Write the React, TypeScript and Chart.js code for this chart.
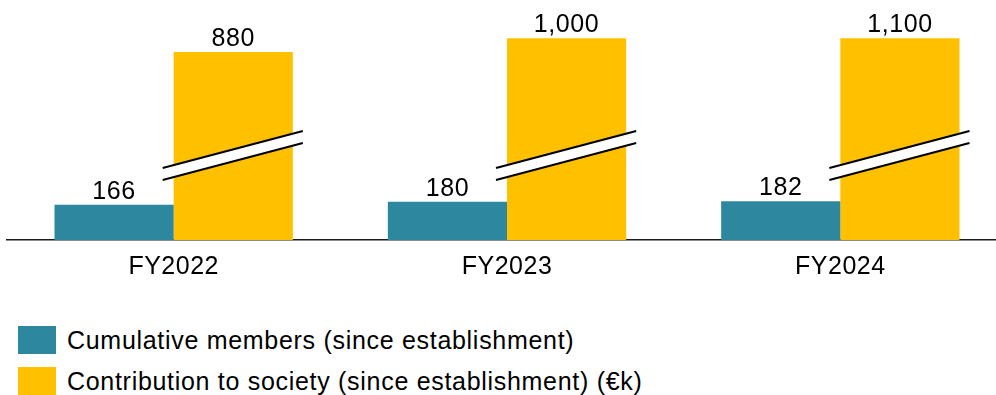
import React, { useEffect, useRef } from 'react';
import { Chart, registerables } from 'chart.js';

Chart.register(...registerables);

const categories = ['FY2022', 'FY2023', 'FY2024'];
const members = [166, 180, 182];
const contribution = [880, 1000, 1100];
// Heights at which the contribution bars are drawn (the axis is broken)
const contributionPlotted = [885, 950, 950];
const seriesNames = [
  'Cumulative members (since establishment)',
  'Contribution to society (since establishment) (€k)',
];
const yMax = 1130;
const breakValue = 398;

const TEAL = '#2D879E';
const YELLOW = '#FFC000';
const FONT = '"Liberation Sans", Arial, Helvetica, sans-serif';
const FONT_SIZE = 25;

const spacingPlugin = {
  id: 'spacing',
  beforeDraw(chart: any) {
    try {
      chart.ctx.letterSpacing = '0.5px';
    } catch (e) {}
  },
};

const overlayPlugin = {
  id: 'overlay',
  afterDatasetsDraw(chart: any) {
    const ctx = chart.ctx;
    const yScale = chart.scales.y;
    ctx.save();
    // axis break marks on the contribution bars
    const meta1 = chart.getDatasetMeta(1);
    meta1.data.forEach((bar: any) => {
      const x0 = bar.x - bar.width / 2 - 11;
      const x1 = bar.x + bar.width / 2 + 10;
      const yMid = yScale.getPixelForValue(breakValue);
      const rise = 18.5;
      const gap = 6;
      const yL = yMid + rise;
      const yR = yMid - rise;
      ctx.beginPath();
      ctx.moveTo(x0, yL - gap);
      ctx.lineTo(x1, yR - gap);
      ctx.lineTo(x1, yR + gap);
      ctx.lineTo(x0, yL + gap);
      ctx.closePath();
      ctx.fillStyle = '#ffffff';
      ctx.fill();
      ctx.strokeStyle = '#000000';
      ctx.lineWidth = 2;
      ctx.beginPath();
      ctx.moveTo(x0, yL - gap);
      ctx.lineTo(x1, yR - gap);
      ctx.stroke();
      ctx.beginPath();
      ctx.moveTo(x0, yL + gap);
      ctx.lineTo(x1, yR + gap);
      ctx.stroke();
    });
    // value labels
    try {
      ctx.letterSpacing = '0.6px';
    } catch (e) {}
    ctx.font = `${FONT_SIZE}px ${FONT}`;
    ctx.fillStyle = '#000000';
    ctx.textAlign = 'center';
    ctx.textBaseline = 'alphabetic';
    chart.data.datasets.forEach((ds: any, di: number) => {
      const meta = chart.getDatasetMeta(di);
      meta.data.forEach((bar: any, i: number) => {
        const v = ds.labelValues[i];
        ctx.fillText(v.toLocaleString('en-US'), bar.x, bar.y - 6);
      });
    });
    ctx.restore();
  },
};

export default function App() {
  const canvasRef = useRef<HTMLCanvasElement | null>(null);

  useEffect(() => {
    if (!canvasRef.current) return;
    const chart = new Chart(canvasRef.current, {
      type: 'bar',
      data: {
        labels: categories,
        datasets: [
          {
            label: seriesNames[0],
            data: members,
            labelValues: members,
            backgroundColor: TEAL,
            borderWidth: 0,
          } as any,
          {
            label: seriesNames[1],
            data: contributionPlotted,
            labelValues: contribution,
            backgroundColor: YELLOW,
            borderWidth: 0,
          } as any,
        ],
      },
      options: {
        animation: false,
        responsive: true,
        maintainAspectRatio: false,
        datasets: { bar: { categoryPercentage: 0.715, barPercentage: 1.0 } },
        layout: { padding: { left: 7, right: 0, top: 0, bottom: 8 } },
        plugins: {
          legend: { display: false },
          tooltip: { enabled: false },
        },
        scales: {
          x: {
            grid: { display: false, drawTicks: false },
            border: { display: true, color: '#1a1a1a', width: 1.5 },
            ticks: {
              color: '#000000',
              padding: 12,
              font: { family: FONT, size: FONT_SIZE },
            },
          },
          y: { display: false, min: 0, max: yMax },
        },
      },
      plugins: [spacingPlugin, overlayPlugin],
    });
    return () => chart.destroy();
  }, []);

  const legendRow = (color: string, text: string, top: number) => (
    <div
      style={{
        position: 'absolute',
        left: 18,
        top,
        height: 28,
        display: 'flex',
        alignItems: 'center',
        whiteSpace: 'nowrap',
      }}
    >
      <div style={{ width: 38, height: 28, background: color, flex: '0 0 auto' }} />
      <span
        style={{
          marginLeft: 11,
          fontFamily: FONT,
          fontSize: FONT_SIZE,
          letterSpacing: '0.7px',
          lineHeight: '28px',
          color: '#000000',
          position: 'relative',
          top: 0,
        }}
      >
        {text}
      </span>
    </div>
  );

  return (
    <div
      style={{
        position: 'fixed',
        left: 0,
        top: 0,
        width: 996,
        height: 395,
        overflow: 'hidden',
        background: '#ffffff',
      }}
    >
      <div style={{ position: 'absolute', left: 0, top: 0, width: 1007, height: 302 }}>
        <canvas ref={canvasRef} />
      </div>
      {legendRow(TEAL, seriesNames[0], 326)}
      {legendRow(YELLOW, seriesNames[1], 367)}
    </div>
  );
}
